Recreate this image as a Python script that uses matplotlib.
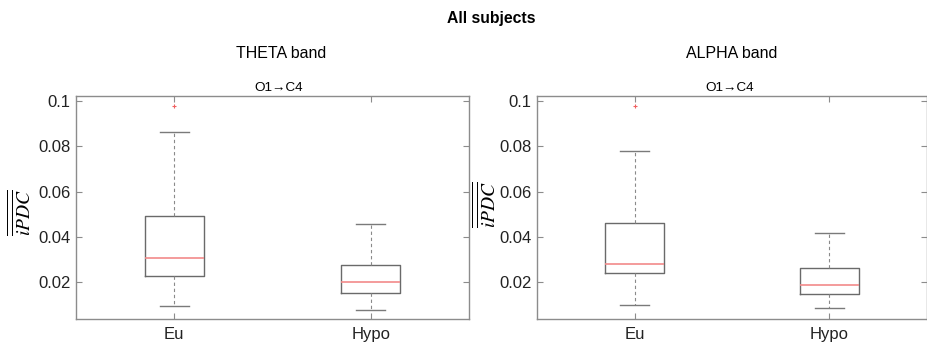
import matplotlib
matplotlib.use("Agg")
import matplotlib.pyplot as plt

plt.rcParams['font.family'] = ['Liberation Sans', 'DejaVu Sans']
plt.rcParams['mathtext.fontset'] = 'stix'

# group names on the x axis
groups = ['Eu', 'Hypo']
bands = ['THETA band', 'ALPHA band']
link = 'O1\u2192C4'

# box statistics per band: [Eu, Hypo]
theta_whislo = [0.0096, 0.0078]
theta_q1 = [0.0229, 0.0153]
theta_med = [0.0307, 0.0200]
theta_q3 = [0.0493, 0.0275]
theta_whishi = [0.0863, 0.0457]
theta_fliers = [[0.0975], []]

alpha_whislo = [0.0100, 0.0088]
alpha_q1 = [0.0239, 0.0146]
alpha_med = [0.0280, 0.0188]
alpha_q3 = [0.0462, 0.0265]
alpha_whishi = [0.0780, 0.0417]
alpha_fliers = [[0.0977], []]

yticks = [0.02, 0.04, 0.06, 0.08, 0.1]
ytick_labels = ['0.02', '0.04', '0.06', '0.08', '0.1']


def make_stats(lo, q1, med, q3, hi, fl):
    return [dict(whislo=lo[i], q1=q1[i], med=med[i], q3=q3[i], whishi=hi[i],
                 fliers=fl[i], label=groups[i]) for i in range(len(groups))]


fig = plt.figure(figsize=(9.28, 3.47), dpi=100)
ax1 = fig.add_axes([76 / 928, 28 / 347, 393 / 928, 223 / 347])
ax2 = fig.add_axes([537 / 928, 28 / 347, 390 / 928, 223 / 347])

stats = [make_stats(theta_whislo, theta_q1, theta_med, theta_q3, theta_whishi, theta_fliers),
         make_stats(alpha_whislo, alpha_q1, alpha_med, alpha_q3, alpha_whishi, alpha_fliers)]
# where the y label sits, in axes fractions
label_xy = [(-0.104, 0.478), (-0.095, 0.515)]

spine_col = '#8c8c8c'
for ax, st, (lx, ly) in zip([ax1, ax2], stats, label_xy):
    ax.bxp(st, positions=[1, 2], widths=0.3, showfliers=True,
           boxprops=dict(color='#6a6a6a', linewidth=1.0),
           whiskerprops=dict(color='#8a8a8a', linestyle=(0, (3, 2.5)), linewidth=0.8),
           capprops=dict(color='#7a7a7a', linewidth=1.0),
           medianprops=dict(color='#f28a8a', linewidth=1.2),
           flierprops=dict(marker='+', markeredgecolor='#f06060', markersize=3,
                           markeredgewidth=0.8, linestyle='none'))
    ax.set_xlim(0.5, 2.5)
    ax.set_ylim(0.0038, 0.1021)
    ax.set_yticks(yticks)
    ax.set_yticklabels(ytick_labels)
    ax.set_xticks([1, 2])
    ax.set_xticklabels(groups)
    ax.tick_params(direction='in', length=4, width=0.8, color=spine_col,
                   labelsize=12, labelcolor='#222222', top=True, right=True, pad=4)
    ax.tick_params(axis='x', pad=6)
    for sp in ax.spines.values():
        sp.set_color(spine_col)
        sp.set_linewidth(1.0)
    ax.set_ylabel(r'$\overline{\overline{iPDC}}$', fontsize=14)
    ax.yaxis.set_label_coords(lx, ly)

# titles
fig.text(491 / 928, 1 - 19 / 347, 'All subjects', ha='center', va='center',
         fontsize=11.3, fontweight='bold')
fig.text(281 / 928, 1 - 54 / 347, bands[0], ha='center', va='center', fontsize=11.5)
fig.text(732 / 928, 1 - 54 / 347, bands[1], ha='center', va='center', fontsize=11.5)
fig.text(279 / 928, 1 - 88 / 347, link, ha='center', va='center', fontsize=9.7)
fig.text(730 / 928, 1 - 88 / 347, link, ha='center', va='center', fontsize=9.7)

fig.savefig('out.png', dpi=100)
